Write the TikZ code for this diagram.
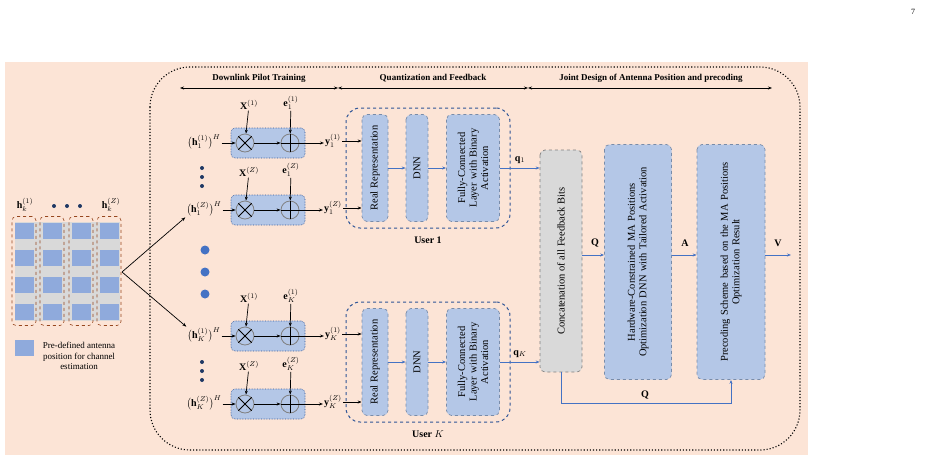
\documentclass[tikz,border=0pt]{standalone}
\usepackage{fontspec}
\setmainfont{Liberation Serif}
\usetikzlibrary{arrows.meta}
\definecolor{peach}{RGB}{252,228,214}
\definecolor{blk}{RGB}{180,199,231}
\definecolor{blkb}{RGB}{120,140,170}
\definecolor{ubox}{RGB}{47,85,151}
\definecolor{arr}{RGB}{68,114,196}
\definecolor{ant}{RGB}{143,170,220}
\definecolor{col}{RGB}{217,217,217}
\definecolor{brn}{RGB}{150,70,30}
\definecolor{dkb}{RGB}{31,56,100}
\tikzset{
 x=1pt,y=-1pt,
 blk/.style={draw=blkb,dashed,fill=blk,rounded corners=5pt,line width=0.7pt},
 rblk/.style={blk,rotate=90,align=center,font=\fontsize{10.5}{11.5}\selectfont,inner sep=1pt},
 pbox/.style={draw=ubox,densely dotted,fill=blk,rounded corners=4pt,minimum width=74pt,minimum height=30pt,line width=0.6pt},
 op/.style={circle,draw=gray,line width=0.8pt,minimum size=18pt,inner sep=0pt},
 ka/.style={-{Stealth[length=4pt]},line width=0.7pt,black},
 ba/.style={-{Stealth[length=4pt]},line width=0.8pt,arr},
 lab/.style={font=\fontsize{10}{11}\selectfont,inner sep=1pt},
 blab/.style={lab,font=\bfseries\fontsize{10}{11}\selectfont},
 hdr/.style={font=\bfseries\fontsize{9}{10}\selectfont},
 ubx/.style={draw=ubox,dashed,line width=1pt,rounded corners=14pt},
 antc/.style={draw=brn,dashed,rounded corners=4pt,minimum width=24pt,minimum height=109pt,line width=0.6pt},
 sq/.style={fill=ant,minimum width=19pt,minimum height=16pt,inner sep=0pt},
 bdot/.style={circle,fill=arr,minimum size=9pt,inner sep=0pt},
 sdot/.style={circle,fill=dkb,minimum size=4pt,inner sep=0pt},
}
% #1 name, #2 y, #3 h-sub, #4 sup, #5 e/y sub
\newcommand\prow[5]{%
 \node[pbox] (#1box) at (268,#2) {};
 \node[op] (#1m) at (245,#2) {};
 \draw[line width=0.8pt] (#1m.north west)--(#1m.south east) (#1m.north east)--(#1m.south west);
 \node[op] (#1p) at (290,#2) {};
 \draw[line width=0.8pt] (#1p.north)--(#1p.south) (#1p.west)--(#1p.east);
 \node[lab] (#1h) at (204,#2-1) {$\bigl(\mathbf{h}_{#3}^{(#4)}\bigr)^{H}$};
 \node[lab] (#1X) at (249,#2-38) {$\mathbf{X}^{(#4)}$};
 \node[lab] (#1e) at (291,#2-40) {$\mathbf{e}_{#5}^{(#4)}$};
 \node[lab] (#1y) at (333,#2-2) {$\mathbf{y}_{#5}^{(#4)}$};
 \draw[ka] (#1h.east|-#1m) -- (#1m);
 \draw[ka] (#1m) -- (#1p);
 \draw[ka] (#1p) -- (#1y.west|-#1p);
 \draw[ka] (#1X) -- (#1m);
 \draw[ka] (#1e) -- (#1p);
}
\newcommand\ublock[6]{%
 \node[ubx,minimum width=164pt,minimum height=120pt] (#1U) at (428,#2) {};
 \node[rblk,minimum width=107pt,minimum height=26pt] (#1R) at (375,#2) {Real Representation};
 \node[rblk,minimum width=107pt,minimum height=22pt] (#1D) at (417,#2) {DNN};
 \node[rblk,minimum width=107pt,minimum height=53pt,text width=104pt] (#1F) at (473,#2) {Fully-Connected\\Layer with Binary\\Activation};
 \draw[ba] (#1R) -- (#1D);
 \draw[ba] (#1D) -- (#1F);
 \node[blab] (#1L) at (428,#2+72) {#3};
 \draw[ka] (#4y.east) -- (#4y.east-|#1R.north);
 \draw[ka] (#5y.east) -- (#5y.east-|#1R.north);
 \node[lab] (#1q) at (520,#2-8) {$\mathbf{q}_{#6}$};
}
\begin{document}
\begin{tikzpicture}
\useasboundingbox (0,0) rectangle (927,461);
\fill[peach] (5,62) rectangle (808,455);
\node[font=\fontsize{8}{9}\selectfont] (pg) at (913,12) {7};
% antenna array
\fill[col] (15,222) rectangle (120,321);
\foreach \c/\n in {24/a,52/b,81/c,109/d}{
 \node[antc] (col\n) at (\c,271) {};
 \foreach \r/\m in {231/1,258/2,285/3,312/4} \node[sq] (s\n\m) at (\c,\r) {};
}
\node[lab] (hk1) at (25,205) {$\mathbf{h}_k^{(1)}$};
\node[lab] (hkZ) at (111,205) {$\mathbf{h}_k^{(Z)}$};
\foreach \x/\n in {54/1,67/2,80/3} \node[sdot] (td\n) at (\x,206) {};
\node[sq] (legsq) at (24,348) {};
\node[lab,align=center,font=\fontsize{9}{10.5}\selectfont] (legt) at (79,356) {Pre-defined antenna\\position for channel\\estimation};
% frame
\draw[dotted,line width=1.1pt,rounded corners=40pt] (150,67) rectangle (800,450);
\coordinate (a1) at (180,88); \coordinate (a2) at (338,88);
\coordinate (a3) at (528,88); \coordinate (a4) at (772,88);
\draw[{Stealth[length=4pt]}-{Stealth[length=4pt]},line width=0.7pt] (a1)--(a2);
\draw[{Stealth[length=4pt]}-{Stealth[length=4pt]},line width=0.7pt] (a2)--(a3);
\draw[{Stealth[length=4pt]}-{Stealth[length=4pt]},line width=0.7pt] (a3)--(a4);
\node[hdr] (t1) at (259,78) {Downlink Pilot Training};
\node[hdr] (t2) at (433,78) {Quantization and Feedback};
\node[hdr] (t3) at (651,78) {Joint Design of Antenna Position and precoding};
% rows
\prow{r1}{143}{1}{1}{1}
\prow{r2}{210}{1}{Z}{1}
\prow{r3}{336}{K}{1}{K}
\prow{r4}{404}{K}{Z}{K}
\foreach \y/\n in {168/1,177/2,186/3} \node[sdot] (d1\n) at (202,\y) {};
\foreach \y/\n in {362/1,371/2,380/3} \node[sdot] (d2\n) at (202,\y) {};
\foreach \y/\n in {250/1,272/2,294/3} \node[bdot] (bd\n) at (205,\y) {};
% fan
\coordinate (fan) at (122,272);
\draw[ka] (fan) -- (r2h.south west);
\draw[ka] (fan) -- (r3h.north west);
% user blocks
\ublock{u1}{168}{User 1}{r1}{r2}{1}
\ublock{uK}{362}{User $K$}{r3}{r4}{K}
% joint design
\node[rblk,draw=gray,fill=col,minimum width=222pt,minimum height=42pt] (cat) at (561,261) {Concatenation of all Feedback Bits};
\node[rblk,minimum width=235pt,minimum height=67pt,text width=225pt] (hw) at (638,262) {Hardware-Constrained MA Positions\\Optimization DNN with Tailored Activation};
\node[rblk,minimum width=235pt,minimum height=68pt,text width=225pt] (pre) at (731,262) {Precoding Scheme based on the MA Positions\\Optimization Result};
\draw[ba] (u1F.south) -- (u1F.south-|cat.north);
\draw[ba] (uKF.south) -- (uKF.south-|cat.north);
\coordinate (ya) at (0,255);
\draw[ba] (cat.south|-ya) -- (hw.north|-ya);
\draw[ba] (hw.south|-ya) -- (pre.north|-ya);
\coordinate (vend) at (791,255);
\draw[ba] (pre.south|-ya) -- (vend);
\node[blab] (lq) at (595,243) {Q};
\node[blab] (la) at (685,243) {A};
\node[blab] (lv) at (778,243) {V};
\coordinate (yb) at (0,403);
\draw[ba] (cat.west) -- (cat.west|-yb) -- (pre.west|-yb) -- (pre.west);
\node[blab] (lq2) at (645,395) {Q};
\end{tikzpicture}
\end{document}
